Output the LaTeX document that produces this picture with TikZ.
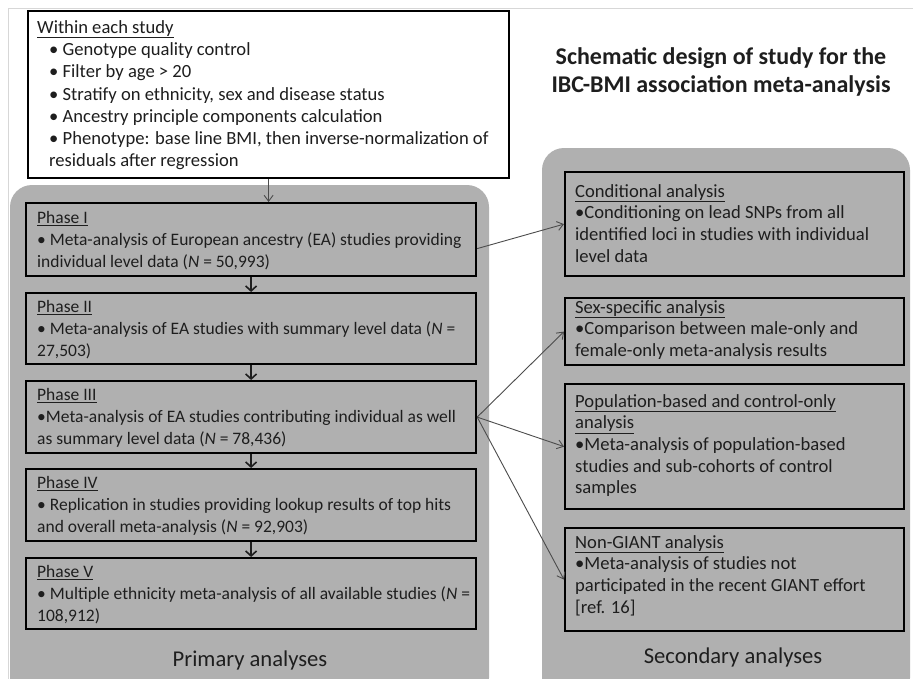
\documentclass[tikz,border=0pt]{standalone}
\usepackage{fontspec}
\setmainfont{Carlito}
\usetikzlibrary{arrows.meta}
\definecolor{panel}{RGB}{176,176,176}
\definecolor{ink}{RGB}{30,30,30}
\definecolor{frame}{RGB}{215,215,215}
\begin{document}
\begin{tikzpicture}[x=1pt,y=-1pt,
  panelbox/.style={fill=panel, rounded corners=22pt},
  stagebox/.style={draw=black, line width=2.2pt, fill=panel, anchor=north west, inner sep=0pt},
  topbox/.style={draw=black, line width=2.2pt, fill=white, anchor=north west, inner sep=0pt},
  txt/.style={anchor=north west, inner sep=0pt, align=left, text=ink, font=\fontsize{17.5}{22}\selectfont},
  bigtxt/.style={txt, font=\fontsize{18.6}{21.7}\selectfont},
  flow/.style={-{Straight Barb[length=5pt,width=11pt]}, line width=1.6pt, draw=ink},
  side/.style={-{Straight Barb[length=6pt,width=9pt]}, line width=0.9pt, draw=black!70},
  lbl/.style={inner sep=0pt, text=ink, font=\fontsize{22.6}{26}\selectfont}]
\useasboundingbox (0,0) rectangle (913,678);
\fill[white] (0,0) rectangle (913,678);
\draw[frame, line width=1pt] (8,690) -- (8,8) -- (920,8);
% panels
\fill[panelbox] (10,185) rectangle (489,700);
\fill[panelbox] (542,148) rectangle (910,700);
% title
\node[align=center, inner sep=0pt, text=ink, font=\fontsize{24}{28}\selectfont\bfseries] (title) at (721,72)
  {Schematic design of study for the\\IBC-BMI association meta-analysis};
% top box
\node[topbox, minimum width=481pt, minimum height=167pt] (top) at (27,10) {};
\node[bigtxt, font=\fontsize{18.6}{22.3}\selectfont] (ttop) at (37,20) {\underline{Within each study}\\
\hspace*{12pt}• Genotype quality control\\
\hspace*{12pt}• Filter by age > 20\\
\hspace*{12pt}• Stratify on ethnicity, sex and disease status\\
\hspace*{12pt}• Ancestry principle components calculation\\
\hspace*{12pt}• Phenotype: base line BMI, then inverse-normalization of\\
\hspace*{12pt}residuals after regression};
% phases
\node[stagebox, minimum width=450pt, minimum height=73pt] (p1) at (25,202) {};
\node[stagebox, minimum width=450pt, minimum height=71pt] (p2) at (25,292) {};
\node[stagebox, minimum width=450pt, minimum height=72pt] (p3) at (25,380) {};
\node[stagebox, minimum width=450pt, minimum height=72pt] (p4) at (25,468) {};
\node[stagebox, minimum width=450pt, minimum height=71pt] (p5) at (25,557) {};
\node[txt] (tp1) at (37,211) {\underline{Phase I}\\• Meta-analysis of European ancestry (EA) studies providing\\individual level data (\textit{N} = 50,993)};
\node[txt] (tp2) at (37,300) {\underline{Phase II}\\• Meta-analysis of EA studies with summary level data (\textit{N} =\\27,503)};
\node[txt] (tp3) at (37,388) {\underline{Phase III}\\•Meta-analysis of EA studies contributing individual as well\\as summary level data (\textit{N} = 78,436)};
\node[txt] (tp4) at (37,476) {\underline{Phase IV}\\• Replication in studies providing lookup results of top hits\\and overall meta-analysis (\textit{N} = 92,903)};
\node[txt] (tp5) at (37,565) {\underline{Phase V}\\• Multiple ethnicity meta-analysis of all available studies (\textit{N} =\\108,912)};
% secondary boxes
\node[stagebox, minimum width=339pt, minimum height=104pt] (s1) at (564,171) {};
\node[stagebox, minimum width=339pt, minimum height=67pt] (s2) at (564,297) {};
\node[stagebox, minimum width=339pt, minimum height=125pt] (s3) at (564,383) {};
\node[stagebox, minimum width=339pt, minimum height=103pt] (s4) at (564,527) {};
\node[bigtxt] (ts1) at (575,184) {\underline{Conditional analysis}\\•Conditioning on lead SNPs from all\\identified loci in studies with individual\\level data};
\node[bigtxt] (ts2) at (575,300) {\underline{Sex-specific analysis}\\•Comparison between male-only and\\female-only meta-analysis results};
\node[bigtxt] (ts3) at (575,394) {\underline{Population-based and control-only}\\\underline{analysis}\\•Meta-analysis of population-based\\studies and sub-cohorts of control\\samples};
\node[bigtxt] (ts4) at (575,535) {\underline{Non-GIANT analysis}\\•Meta-analysis of studies not\\participated in the recent GIANT effort\\{[ref. 16]}};
% panel labels
\node[lbl] (prim) at (250,660) {Primary analyses};
\node[lbl] (sec) at (733,657) {Secondary analyses};
% connectors
\draw[side] (top.south) -- (top.south |- p1.north);
\draw[flow] (p1.south) -- (p2.north);
\draw[flow] (p2.south) -- (p3.north);
\draw[flow] (p3.south) -- (p4.north);
\draw[flow] (p4.south) -- (p5.north);
\draw[side] ([yshift=-9pt]p1.east) -- (s1.west);
\draw[side] (p3.east) -- (s2.west);
\draw[side] (p3.east) -- (s3.west);
\draw[side] (p3.east) -- (s4.west);
\end{tikzpicture}
\end{document}
